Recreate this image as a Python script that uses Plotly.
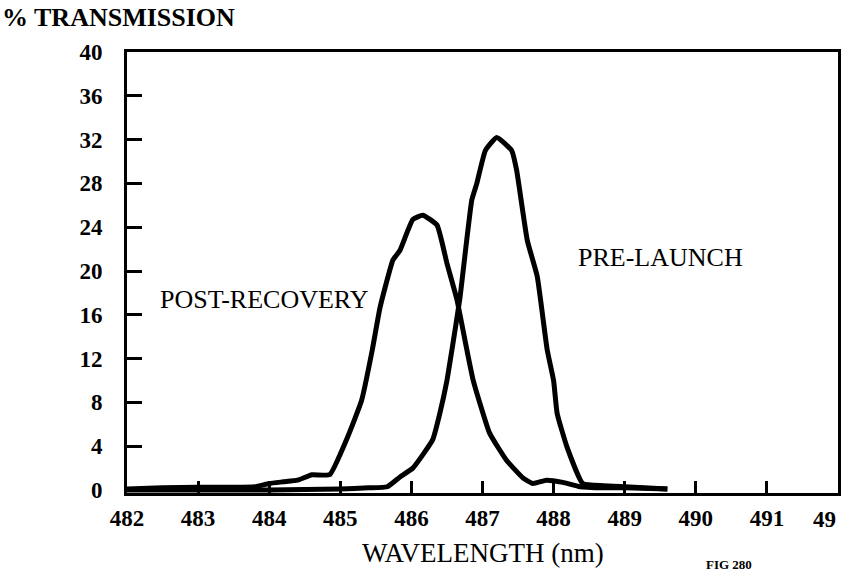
import plotly.graph_objects as go

# Data
post_x = [482.0, 482.5, 483.0, 483.5, 483.8, 484.0, 484.2, 484.4, 484.6, 484.85, 485.1, 485.3,
          485.45, 485.56, 485.74, 485.84, 486.02, 486.16, 486.36, 486.5, 486.64, 486.78, 486.87,
          487.1, 487.34, 487.57, 487.71, 487.9, 488.13, 488.37, 488.7, 489.0, 489.6]
post_y = [0.1, 0.2, 0.25, 0.25, 0.3, 0.6, 0.75, 0.9, 1.4, 1.4, 4.8, 8.2,
          12.8, 16.7, 21.0, 21.9, 24.7, 25.1, 24.2, 20.7, 17.4, 12.8, 10.0,
          5.2, 2.7, 1.1, 0.6, 0.9, 0.7, 0.3, 0.2, 0.2, 0.1]

pre_x = [482.0, 483.0, 484.0, 485.0, 485.4, 485.66, 485.84, 486.02, 486.3, 486.4, 486.5, 486.57,
         486.68, 486.85, 486.92, 487.04, 487.2, 487.41, 487.48, 487.63, 487.77, 487.91, 488.0,
         488.05, 488.19, 488.41, 488.7, 489.0, 489.6]
pre_y = [0.0, 0.0, 0.0, 0.1, 0.2, 0.3, 1.2, 2.0, 4.6, 7.0, 10.0, 12.8,
         17.4, 26.5, 28.0, 31.0, 32.2, 31.0, 29.2, 22.8, 19.5, 12.8, 10.0,
         7.0, 3.9, 0.6, 0.4, 0.3, 0.1]

x_tick_vals = [482, 483, 484, 485, 486, 487, 488, 489, 490, 491, 492]
x_tick_text = ["482", "483", "484", "485", "486", "487", "488", "489", "490", "491", ""]
last_tick_label = "49"   # truncated label at the right edge, as printed
y_tick_vals = [0, 4, 8, 12, 16, 20, 24, 28, 32, 36, 40]

labels = ["POST-RECOVERY", "PRE-LAUNCH"]
label_x = [483.94, 489.5]
label_y = [17.4, 21.2]

FONT = "Liberation Serif"

fig = go.Figure()
fig.add_trace(go.Scatter(x=post_x, y=post_y, mode="lines", name="POST-RECOVERY",
                         line=dict(color="black", width=5, shape="spline", smoothing=0.4)))
fig.add_trace(go.Scatter(x=pre_x, y=pre_y, mode="lines", name="PRE-LAUNCH",
                         line=dict(color="black", width=5, shape="spline", smoothing=0.4)))

for t, lx, ly in zip(labels, label_x, label_y):
    fig.add_annotation(x=lx, y=ly, text=t, showarrow=False,
                       font=dict(family=FONT, size=26, color="black"))

# truncated last x tick label, kept inside the page
fig.add_annotation(x=x_tick_vals[-1], xref="x", y=0, yref="paper", yshift=-12,
                   xanchor="right", yanchor="top", text="<b>" + last_tick_label + "</b>",
                   showarrow=False, font=dict(family=FONT, size=23, color="black"))

fig.add_annotation(xref="paper", yref="paper", x=0, xshift=-127, y=1.0, yshift=51,
                   xanchor="left", yanchor="top", text="<b>% TRANSMISSION</b>",
                   showarrow=False, font=dict(family=FONT, size=26, color="black"))
fig.add_annotation(xref="paper", yref="paper", x=0.5, y=0, yshift=-43,
                   xanchor="center", yanchor="top", text="WAVELENGTH (nm)",
                   showarrow=False, font=dict(family=FONT, size=27, color="black"))
fig.add_annotation(xref="paper", yref="paper", x=0.847, y=0, yshift=-62,
                   xanchor="center", yanchor="top", text="<b>FIG 280</b>",
                   showarrow=False, font=dict(family=FONT, size=13, color="black"))

fig.update_xaxes(range=[482, 492], tickvals=x_tick_vals, ticktext=x_tick_text,
                 ticks="inside", ticklen=12, tickwidth=2.5, tickcolor="black",
                 showline=True, linecolor="black", linewidth=3, mirror=True,
                 showgrid=False, zeroline=False, ticklabelstandoff=2,
                 automargin=False,
                 tickfont=dict(family=FONT, size=23, color="black", weight="bold"))
fig.update_yaxes(range=[-0.27, 40], tickvals=y_tick_vals,
                 ticks="inside", ticklen=15, tickwidth=2.5, tickcolor="black",
                 showline=True, linecolor="black", linewidth=3, mirror=True,
                 showgrid=False, zeroline=False, ticklabelstandoff=17,
                 automargin=False,
                 tickfont=dict(family=FONT, size=23, color="black", weight="bold"))

fig.update_layout(width=842, height=573, showlegend=False,
                  margin=dict(l=127, r=4, t=52, b=80, autoexpand=False),
                  plot_bgcolor="white", paper_bgcolor="white")

fig.write_html("out.html", config={"displayModeBar": False},
               post_script="document.body.style.margin='0';document.body.style.overflow='hidden';")
